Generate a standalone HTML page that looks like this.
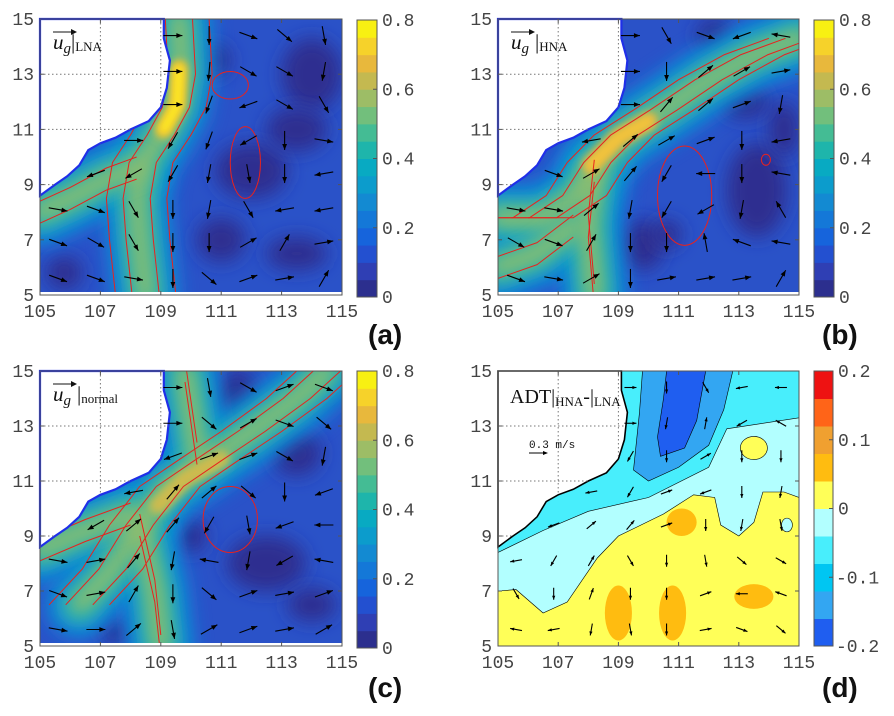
<!DOCTYPE html>
<html><head><meta charset="utf-8"><style>
html,body{margin:0;padding:0;background:#fff;}
svg{display:block;}
text{font-family:"Liberation Mono",monospace;}
</style></head><body>
<svg id="fig" width="894" height="716" viewBox="0 0 894 716"></svg>
<script>
// ---- data ----
const lonTicks=[105,107,109,111,113,115];
const latTicks=[5,7,9,11,13,15];
const speedTicks=["0","0.2","0.4","0.6","0.8"];
const adtTicks=["-0.2","-0.1","0","0.1","0.2"];
const gridLon=[105.6,106.85,108.1,109.4,110.6,111.9,113.1,114.4];
const gridLat=[14.4,13.1,11.9,10.6,9.4,8.1,6.9,5.6];
const anglesA=[[0,0,0,0,-90,-20,-40,-80],[0,0,0,0,-95,-30,-30,-100],[0,0,0,0,-110,-160,-30,-60],[0,0,0,-120,-110,-150,-90,-10],[0,-160,-150,-120,-100,-80,-90,-170],[-10,-20,-60,-90,-100,-60,-170,-170],[-20,-30,-60,-90,-90,30,60,10],[-20,-20,-10,-90,-40,20,10,60]];
const anglesB=[[0,0,0,0,-60,-20,-160,170],[0,0,0,0,-90,40,30,10],[0,0,0,0,50,40,20,-100],[0,0,-170,40,30,20,-90,-170],[-10,-20,30,50,-120,180,-90,170],[-10,-10,40,-100,-120,-150,-100,120],[-30,-20,60,-90,-90,100,160,170],[-20,-10,30,-90,10,10,10,60]];
const anglesC=[[0,0,0,0,-80,-30,20,-20],[0,0,0,0,-40,30,-20,-40],[0,0,0,-160,20,20,-30,-100],[0,0,-170,50,40,-40,-90,-160],[-170,-150,40,50,-120,-80,-160,180],[-10,10,50,-100,170,-100,-150,170],[-20,10,60,-90,-40,20,10,20],[-10,0,40,-80,30,20,10,30]];
const anglesD=[[0,0,0,0,-90,-60,-170,180],[0,0,0,0,-100,80,-150,150],[0,0,0,-120,-90,30,-90,-90],[0,0,-170,-120,20,-160,-90,-100],[-170,-160,40,50,20,-90,-100,-80],[-170,-120,60,-60,-90,-80,-40,-30],[-60,-90,70,-90,-90,20,180,160],[170,-170,-100,-80,-90,10,-20,-40]];
const parula=['#2c2f8e','#2f3fb4','#2350d0','#1664dc','#1478d8','#138ad2','#0c9ccc','#08aac2','#1eb5ab','#44bc94','#72bf7c','#9dbd66','#c4b950','#e8b83c','#f6d22a','#f8f012'];
const adtColors=['#1f5ef0','#33a6f2','#00c6f2','#48eefc','#b2ffff','#ffff58','#ffbc10','#f0a030','#ff6418','#ee1212'];
const land=[[105,15],[109.1,15],[109.1,14.3],[109.3,13.5],[109.2,12.5],[109.0,11.8],[108.6,11.3],[108.0,11.0],[107.5,10.7],[107.0,10.5],[106.6,10.25],[106.3,9.7],[105.9,9.3],[105.5,9.0],[105,8.6]];

const NS='http://www.w3.org/2000/svg';
const svg=document.getElementById('fig');
function mk(tag,attrs,parent){const e=document.createElementNS(NS,tag);for(const k in attrs)e.setAttribute(k,attrs[k]);(parent||svg).appendChild(e);return e;}

const defs=mk('defs',{});
const bl=mk('filter',{id:'blur',filterUnits:'userSpaceOnUse',x:0,y:0,width:894,height:716},defs);
mk('feGaussianBlur',{stdDeviation:'9'},bl);
const bl2=mk('filter',{id:'blur2',filterUnits:'userSpaceOnUse',x:0,y:0,width:894,height:716},defs);
mk('feGaussianBlur',{stdDeviation:'4'},bl2);

function inPoly(pt,poly){let c=false;for(let i=0,j=poly.length-1;i<poly.length;j=i++){const a=poly[i],b=poly[j];if(((a[1]>pt[1])!=(b[1]>pt[1]))&&(pt[0]<(b[0]-a[0])*(pt[1]-a[1])/(b[1]-a[1])+a[0]))c=!c;}return c;}

function panel(P){
  const g=mk('g',{});
  
  
  const X=lon=>P.L+(lon-105)/10*(P.R-P.L);
  const Y=lat=>P.B-(lat-5)/10*(P.B-P.T);
  const pts=arr=>arr.map(p=>X(p[0]).toFixed(1)+','+Y(p[1]).toFixed(1)).join(' ');
  const cid='clip'+P.id;
  const cp=mk('clipPath',{id:cid},defs);mk('rect',{x:P.L,y:P.T,width:P.R-P.L,height:P.B-P.T},cp);
  const lid='land'+P.id;
  const lc=mk('clipPath',{id:lid},defs);mk('polygon',{points:pts(land)},lc);
  const f=mk('g',{'clip-path':'url(#'+cid+')'},g);
  
  
  if(P.type==='speed'){
    mk('rect',{x:P.L,y:P.T,width:P.R-P.L,height:P.B-P.T,fill:'#2a52c8'},f);
    P.navy.forEach(n=>{mk('ellipse',{cx:X(n[0]),cy:Y(n[1]),rx:n[2]/10*(P.R-P.L),ry:n[3]/10*(P.B-P.T),fill:'#2d2f90',filter:'url(#blur)'},f);});
    const layers=[[70,'#1580d8',0.85],[46,'#10a0cc',1],[28,'#38b79e',1],[14,'#9cbd66',1]];
    layers.forEach(l=>{P.jets.forEach(j=>{mk('polyline',{points:pts(j),fill:'none',stroke:l[1],'stroke-width':l[0],'stroke-linejoin':'round','stroke-linecap':'round',opacity:l[2],filter:'url(#blur)'},f);});});
    mk('polyline',{points:pts(P.core),fill:'none',stroke:P.coreCol[0],'stroke-width':18,'stroke-linecap':'round',filter:'url(#blur2)'},f);
    mk('polyline',{points:pts(P.core),fill:'none',stroke:P.coreCol[1],'stroke-width':7,'stroke-linecap':'round',filter:'url(#blur2)'},f);
    P.jets.forEach((j,k)=>{(k===0?[-1.0,-0.45,0.45,1.0]:[-0.4,0.4]).forEach(o=>{
      const sh=j.map(p=>[p[0]+(k===0?o:0),p[1]+(k===0?0:o)]);
      const c=mk('polyline',{points:pts(sh),fill:'none',stroke:'#e8221e','stroke-width':1,'stroke-linejoin':'round'},f);
      
      
    });});
    P.loops.forEach(lp=>{const c=mk('ellipse',{cx:X(lp[0]),cy:Y(lp[1]),rx:lp[2]/10*(P.R-P.L),ry:lp[3]/10*(P.B-P.T),fill:'none',stroke:'#e8221e','stroke-width':1},f);
      
      });
  } else {
    mk('rect',{x:P.L,y:P.T,width:P.R-P.L,height:P.B-P.T,fill:'#48eefc'},f);
    const poly=(a,c)=>mk('polygon',{points:pts(a),fill:c,stroke:'#000','stroke-width':0.6},f);
    poly([[109.8,15],[112.8,15],[112.5,13.6],[112.0,12.3],[111.0,11.5],[110.0,11.0],[109.5,11.4],[109.7,13.5]],'#33a6f2');
    poly([[110.6,15],[111.9,15],[111.6,13.2],[111.2,12.2],[110.4,11.9],[110.3,12.6],[110.5,14]],'#1f5ef0');
    poly([[105,8.4],[106.5,9.2],[108,9.9],[110,10.4],[112,11.5],[112.6,12.9],[115,13.3],[115,5],[105,5]],'#b2ffff');
    poly([[105,7],[105.6,7.05],[106.5,6.2],[107.3,6.6],[108.3,8.2],[109,9],[110.5,9.8],[111.5,10.5],[112.2,10.4],[112.4,9.4],[113,9.0],[113.5,9.5],[113.8,10.6],[114.5,10.6],[115,10.4],[115,5],[105,5]],'#ffff58');
    [[109.0,6.2,0.45,1.0],[110.8,6.2,0.45,1.0],[113.5,6.8,0.65,0.45],[111.1,9.5,0.5,0.5]].forEach(e=>{mk('ellipse',{cx:X(e[0]),cy:Y(e[1]),rx:e[2]/10*(P.R-P.L),ry:e[3]/10*(P.B-P.T),fill:'#ffbc10'},f);});
    mk('ellipse',{cx:X(113.5),cy:Y(12.2),rx:0.45/10*(P.R-P.L),ry:0.42/10*(P.B-P.T),fill:'#ffff58',stroke:'#000','stroke-width':0.6},f);
    mk('ellipse',{cx:X(114.6),cy:Y(9.4),rx:0.18/10*(P.R-P.L),ry:0.25/10*(P.B-P.T),fill:'#b2ffff',stroke:'#000','stroke-width':0.6},f);
  }
  const ld=mk('polygon',{points:pts(land),fill:'#fff',stroke:P.type==='speed'?'#1f2fe8':'#000','stroke-width':P.type==='speed'?2.2:1.6},g);
  
  
  if(P.type==='speed') mk('rect',{x:P.L,y:P.B-3,width:P.R-P.L,height:3,fill:'#fff'},g);
  const gg=mk('g',{'clip-path':'url(#'+lid+')'},g);
  [107,109].forEach(l=>mk('line',{x1:X(l),x2:X(l),y1:P.T,y2:P.B,stroke:'#777','stroke-dasharray':'1.5,2.5','stroke-width':1},gg));
  [9,11,13].forEach(l=>mk('line',{x1:P.L,x2:P.R,y1:Y(l),y2:Y(l),stroke:'#777','stroke-dasharray':'1.5,2.5','stroke-width':1},gg));
  const len=P.type==='speed'?19:12;
  const ag=mk('g',{},g);
  
  
  gridLat.forEach((lat,i)=>gridLon.forEach((lon,j)=>{
    if(inPoly([lon,lat],land))return;
    const a=P.angles[i][j]*Math.PI/180;
    const cx=X(lon),cy=Y(lat),dx=Math.cos(a)*len/2,dy=-Math.sin(a)*len/2;
    const x2=cx+dx,y2=cy+dy,x1=cx-dx,y1=cy-dy;
    const ar=mk('g',{},ag);
    
    
    mk('line',{x1:x1,y1:y1,x2:x2,y2:y2,stroke:'#000','stroke-width':1.1},ar);
    const h=P.type==='speed'?6:4,ux=Math.cos(a),uy=-Math.sin(a);
    const bx=x2-ux*h,by=y2-uy*h;
    mk('polygon',{points:`${x2},${y2} ${bx-uy*h*0.4},${by+ux*h*0.4} ${bx+uy*h*0.4},${by-ux*h*0.4}`,fill:'#000'},ar);
  }));
  mk('rect',{x:P.L,y:P.T,width:P.R-P.L,height:P.B-P.T,fill:'none',stroke:'#555','stroke-width':1},g);
  lonTicks.forEach(t=>{const x=X(t);mk('line',{x1:x,x2:x,y1:P.B,y2:P.B-4,stroke:'#555'},g);mk('line',{x1:x,x2:x,y1:P.T,y2:P.T+4,stroke:'#555'},g);
    const tx=mk('text',{x:x,y:P.B+22,'text-anchor':'middle','font-size':18,fill:'#444'},g);tx.textContent=t;
    
    });
  latTicks.forEach(t=>{const y=Y(t);mk('line',{x1:P.L,x2:P.L+4,y1:y,y2:y,stroke:'#555'},g);mk('line',{x1:P.R,x2:P.R-4,y1:y,y2:y,stroke:'#555'},g);
    const tx=mk('text',{x:P.L-6,y:y+6,'text-anchor':'end','font-size':18,fill:'#444'},g);tx.textContent=t;
    
    });
  const cb=mk('g',{},g);
  
  
  const cols=P.type==='speed'?parula:adtColors;
  const n=cols.length,h=(P.cbB-P.cbT)/n;
  cols.forEach((c,k)=>mk('rect',{x:P.cbL,y:P.cbB-(k+1)*h,width:P.cbW,height:h+0.5,fill:c},cb));
  mk('rect',{x:P.cbL,y:P.cbT,width:P.cbW,height:P.cbB-P.cbT,fill:'none',stroke:'#555'},cb);
  const labs=P.type==='speed'?speedTicks:adtTicks;
  labs.forEach((l,k)=>{const y=P.cbB-k*(P.cbB-P.cbT)/(labs.length-1);
    mk('line',{x1:P.cbL+P.cbW-4,x2:P.cbL+P.cbW,y1:y,y2:y,stroke:'#555'},cb);
    const tx=mk('text',{x:P.cbL+P.cbW+3+(l[0]==='-'?0:2),y:y+6,'font-size':18,fill:'#444'},cb);tx.textContent=l;
    
    });
  const pl=mk('text',{x:P.letterX,y:P.letterY,'font-size':28,'font-weight':'bold',fill:'#111',style:'font-family:"Liberation Sans",sans-serif'},g);
  pl.textContent='('+P.id+')';
  
  
  const tg=mk('g',{},g);
  
  
  const tx0=P.L+13,ty0=P.T+30;
  if(P.type==='speed'){
    const t=mk('text',{x:tx0,y:ty0,'font-size':21,fill:'#111',style:'font-family:"Liberation Serif",serif'},tg);
    t.innerHTML='<tspan font-style="italic">u</tspan><tspan font-style="italic" font-size="15" dy="4">g</tspan><tspan dy="-4" dx="'+P.gap+'">|</tspan><tspan font-size="13" dy="2">'+P.sub+'</tspan>';
    mk('line',{x1:tx0,x2:tx0+22,y1:ty0-17,y2:ty0-17,stroke:'#111','stroke-width':1},tg);
    mk('polygon',{points:`${tx0+24},${ty0-17} ${tx0+18},${ty0-20} ${tx0+18},${ty0-14}`,fill:'#111'},tg);
  } else {
    const t=mk('text',{x:P.L+12,y:P.T+32,'font-size':20,fill:'#111',style:'font-family:"Liberation Serif",serif'},tg);
    t.innerHTML='ADT|<tspan font-size="13" dy="3">HNA</tspan><tspan dy="-3">-|</tspan><tspan font-size="13" dy="3">LNA</tspan>';
    const s=mk('text',{x:P.L+31,y:P.T+77,'font-size':11,fill:'#111'},tg);s.textContent='0.3 m/s';
    
    
    mk('line',{x1:P.L+31,x2:P.L+48,y1:P.T+82,y2:P.T+82,stroke:'#000','stroke-width':1.1},tg);
    mk('polygon',{points:`${P.L+50},${P.T+82} ${P.L+45},${P.T+80} ${P.L+45},${P.T+84}`,fill:'#000'},tg);
  }
}

panel({id:'a',type:'speed',L:40,R:342,T:19,B:295,cbL:357,cbW:20,cbT:20,cbB:297,letterX:368,letterY:344,angles:anglesA,sub:'LNA',gap:0,
  navy:[[112,9.5,1.2,1.0],[114,13,1,1.3],[111,7,0.8,0.8],[113.5,6.5,1,0.6],[110.8,13.5,0.5,0.6],[105.8,5.8,0.6,0.6],[113.5,11,1,0.8]],
  jets:[[[109.6,15],[109.7,13],[109.5,11.8],[109,10.8],[108.4,9.8],[108.2,8.5],[108.3,7],[108.5,5]],[[105,8],[106,8.5],[107.2,9.2],[108.2,9.6]]],
  core:[[109.6,13.2],[109.55,11.9],[109.1,11]],coreCol:['#f2c030','#fff41c'],loops:[[111.3,12.6,0.6,0.5],[111.8,9.8,0.5,1.3]]});
panel({id:'b',type:'speed',L:498,R:799,T:19,B:295,cbL:814,cbW:20,cbT:20,cbB:297,letterX:822,letterY:344,angles:anglesB,sub:'HNA',gap:6,
  navy:[[109.8,6.8,0.7,0.9],[113.6,8.8,1,1.7],[112.2,14.4,0.6,0.6],[110.6,7.2,0.5,0.5],[114.5,11,0.5,1],[113.2,12,0.8,0.6]],
  jets:[[[105,7.8],[106.5,7.8],[107.6,8.6],[108.3,9.8],[109.2,10.8],[110.5,11.7],[112,12.8],[113.5,13.7],[115,14.3]],[[108.2,9.5],[108,7.5],[108.2,5]],[[105,6],[106.3,6.5],[107.5,7.5]]],
  core:[[108.1,9.7],[109,10.7],[110,11.3]],coreCol:['#e8b840','#f4c83a'],loops:[[111.2,8.6,0.9,1.8],[113.9,9.9,0.15,0.2]]});
panel({id:'c',type:'speed',L:40,R:342,T:371,B:646,cbL:357,cbW:20,cbT:371,cbB:648,letterX:368,letterY:697,angles:anglesC,sub:'normal',gap:6,
  navy:[[111.5,14,0.8,1],[113.5,12,0.8,0.8],[112.5,8,1.3,1],[110,9,0.5,0.6],[107.5,5.5,0.5,0.4],[114,14.5,0.8,0.5],[114,6.5,0.8,0.6]],
  jets:[[[106.3,6.5],[107.4,7.8],[108.3,9.4],[109.3,10.8],[110.5,11.7],[112,12.8],[113.5,14],[114.5,15]],[[109.8,15],[110,13.5],[110.2,12]],[[109,5],[108.8,7],[108.3,9.4]],[[105,8.5],[106.5,9.2],[108,9.8]]],
  core:[[108.9,10.1],[109.8,11.1],[111,11.8]],coreCol:['#b8bc58','#d8ba48'],loops:[[111.3,9.6,0.9,1.2]]});
panel({id:'d',type:'adt',L:498,R:799,T:371,B:646,cbL:814,cbW:19,cbT:371,cbB:646,letterX:822,letterY:697,angles:anglesD});
</script>
</body></html>
